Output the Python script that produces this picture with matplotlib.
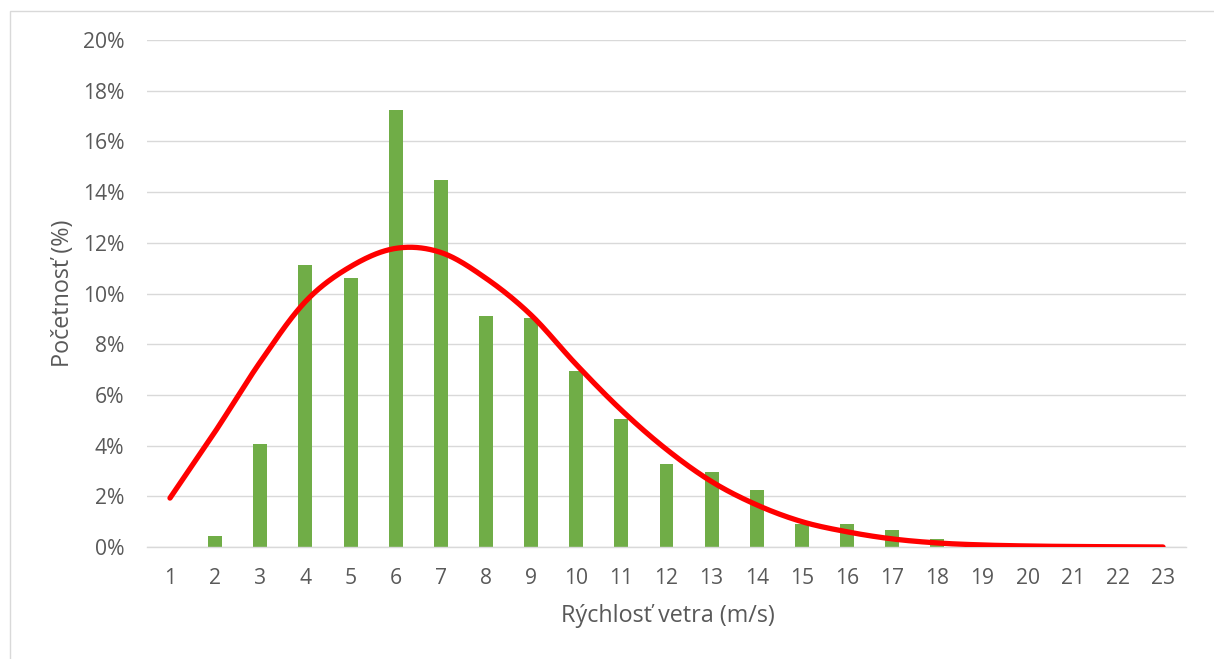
import numpy as np
import matplotlib
matplotlib.use('Agg')
import matplotlib.pyplot as plt
from matplotlib.patches import Rectangle
from matplotlib.ticker import FuncFormatter

# ── Dáta ──────────────────────────────────────────────────────────────────────

rychlost = list(range(1, 24))   # m/s
# nameraná početnosť (%)
pocetnost = [0.01, 0.43, 4.05, 11.11, 10.62, 17.23, 14.48, 9.12, 9.03, 6.93,
             5.04, 3.26, 2.95, 2.26, 0.90, 0.92, 0.66, 0.32, 0.02, 0.03,
             0.0, 0.0, 0.0]
# preložená krivka (%)
krivka = [1.93, 4.55, 7.30, 9.68, 11.06, 11.78, 11.62, 10.60, 9.15, 7.20,
          5.40, 3.85, 2.58, 1.66, 1.00, 0.60, 0.32, 0.16, 0.08, 0.04,
          0.02, 0.01, 0.0]

SIVA_TEXT = '#595959'
SIVA_MRIEZKA = '#D9D9D9'
ZELENA = '#70AD47'
CERVENA = '#FF0000'

plt.rcParams['font.family'] = ['Open Sans', 'DejaVu Sans']


def vyhladit(x, y, n=30):
    """Catmull-Rom vyhladenie, podobne ako 'smoothed line' v Exceli."""
    x = np.asarray(x, float)
    y = np.asarray(y, float)
    px = np.concatenate([[x[0]], x, [x[-1]]])
    py = np.concatenate([[y[0]], y, [y[-1]]])
    xs, ys = [], []
    t = np.linspace(0, 1, n, endpoint=False)
    for i in range(1, len(px) - 2):
        for p, out in ((px, xs), (py, ys)):
            p0, p1, p2, p3 = p[i - 1], p[i], p[i + 1], p[i + 2]
            out.extend(0.5 * (2 * p1 + (-p0 + p2) * t
                              + (2 * p0 - 5 * p1 + 4 * p2 - p3) * t ** 2
                              + (-p0 + 3 * p1 - 3 * p2 + p3) * t ** 3))
    xs.append(x[-1])
    ys.append(y[-1])
    return np.array(xs), np.array(ys)


# ── Graf ──────────────────────────────────────────────────────────────────────

W, H = 1214, 659
fig = plt.figure(figsize=(W / 100, H / 100), dpi=100)
ax = fig.add_axes([147.4 / W, (H - 547) / H, 1038.2 / W, 507 / H])

ax.bar(rychlost, pocetnost, width=0.31, color=ZELENA, zorder=2)
kx, ky = vyhladit(rychlost, krivka)
ax.plot(kx, ky, color=CERVENA, lw=3.8, solid_capstyle='round', zorder=3)

ax.set_xlim(0.5, 23.5)
ax.set_ylim(0, 20)
ax.set_xticks(rychlost)
ax.set_yticks(np.arange(0, 21, 2))
ax.yaxis.set_major_formatter(FuncFormatter(lambda v, _: f'{v:.0f}%'))

ax.grid(axis='y', color=SIVA_MRIEZKA, lw=1.0, zorder=0)
ax.set_axisbelow(True)
for s in ['top', 'right', 'left']:
    ax.spines[s].set_visible(False)
ax.spines['bottom'].set_color(SIVA_MRIEZKA)
ax.spines['bottom'].set_linewidth(1.0)

ax.tick_params(axis='both', length=0, labelsize=15.2, labelcolor=SIVA_TEXT)
ax.tick_params(axis='y', pad=16.5)
ax.tick_params(axis='x', pad=15)

ax.set_xlabel('Rýchlosť vetra (m/s)', fontsize=16.8, color=SIVA_TEXT)
ax.set_ylabel('Početnosť (%)', fontsize=16.8, color=SIVA_TEXT)
ax.xaxis.set_label_coords(668 / W, (H - 604) / H, transform=fig.transFigure)
ax.yaxis.set_label_coords(75 / W, (H - 293.5) / H, transform=fig.transFigure)

# rámček grafu
fig.patches.append(Rectangle((10 / W, -0.1), 1.2, (H - 10.5) / H + 0.1,
                             transform=fig.transFigure, fill=False,
                             edgecolor=SIVA_MRIEZKA, lw=1.0))

fig.savefig('out.png', dpi=100)
plt.close(fig)
